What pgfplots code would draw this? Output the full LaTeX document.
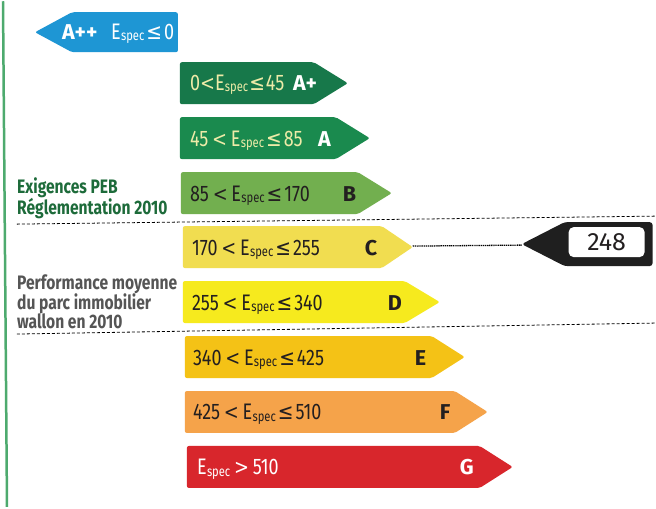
\documentclass[border=0pt]{standalone}
\usepackage{pgfplots}
\pgfplotsset{compat=1.18}
\usepackage{fontspec}
\setmainfont{Fira Sans}[FakeStretch=0.8]
\newfontfamily\lett{Fira Sans}
\newfontfamily\symf{DejaVu Sans}[FakeStretch=0.85]
\definecolor{cApp}{HTML}{1E96D4}
\definecolor{cAp}{HTML}{17784A}
\definecolor{cA}{HTML}{1A8A4E}
\definecolor{cB}{HTML}{72AF4F}
\definecolor{cC}{HTML}{F1DD50}
\definecolor{cD}{HTML}{F6EA1E}
\definecolor{cE}{HTML}{F4C216}
\definecolor{cF}{HTML}{F5A34A}
\definecolor{cG}{HTML}{D8262C}
\definecolor{ltxt}{HTML}{EEEBA8}
\definecolor{dtxt}{HTML}{231F20}
\definecolor{peb}{HTML}{1D6B3A}
\definecolor{grtxt}{HTML}{555555}
\definecolor{border}{HTML}{4DAA6E}
\newcommand\Es{E\kern0.3pt\raisebox{-1.5pt}{\fontsize{14}{14}\selectfont spec}}
\newcommand\LE{\kern2pt{\symf\fontsize{22}{22}\selectfont ≤}\kern2pt}
\newcommand\LT{\,{\symf\fontsize{21}{21}\selectfont <}\,}
\newcommand\GT{\,{\symf\fontsize{21}{21}\selectfont >}\,}
\tikzset{
  rng/.style={anchor=base west, inner sep=0pt, font=\fontsize{22.5}{22.5}\selectfont},
  let/.style={anchor=base west, inner sep=0pt, font=\lett\bfseries\fontsize{21.5}{21.5}\selectfont},
  lft/.style={anchor=base west, inner sep=0pt, font=\bfseries\fontsize{19.5}{19.5}\selectfont}
}
\begin{document}
\begin{tikzpicture}
\begin{axis}[scale only axis, width=656pt, height=506pt,
  xmin=0, xmax=656, ymin=0, ymax=506, y dir=reverse,
  hide axis, clip=false]
% background
\addplot[draw=none, fill=white] coordinates {(0,0) (656,0) (656,506) (0,506)} -- cycle;
% left border
\addplot[border, line width=2.5pt] coordinates {(3,0) (7,506)};
% arrows
\addplot[fill=cApp, draw=none, rounded corners=2pt] coordinates {(35,31) (72,11) (178,11) (178,51) (72,51)} -- cycle;
\addplot[fill=cAp, draw=none, rounded corners=2pt] coordinates {(180,61) (314,61) (348,82) (314,103) (180,103)} -- cycle;
\addplot[fill=cA, draw=none, rounded corners=2pt] coordinates {(180,116) (336,116) (370,137) (336,158) (180,158)} -- cycle;
\addplot[fill=cB, draw=none, rounded corners=2pt] coordinates {(181,171) (358,171) (392,192) (358,213) (181,213)} -- cycle;
\addplot[fill=cC, draw=none, rounded corners=2pt] coordinates {(183,225) (382,225) (413,246) (382,267) (183,267)} -- cycle;
\addplot[fill=cD, draw=none, rounded corners=2pt] coordinates {(183,280) (405,280) (440,301) (405,322) (183,322)} -- cycle;
\addplot[fill=cE, draw=none, rounded corners=2pt] coordinates {(185,335) (432,335) (465,356) (432,377) (185,377)} -- cycle;
\addplot[fill=cF, draw=none, rounded corners=2pt] coordinates {(185,390) (455,390) (488,411) (455,432) (185,432)} -- cycle;
\addplot[fill=cG, draw=none, rounded corners=2pt] coordinates {(187,445) (480,445) (513,466) (480,487) (187,487)} -- cycle;
% dashed separators
\addplot[black, line width=0.8pt, dash pattern=on 3pt off 2pt] coordinates {(17,223) (656,215)};
\addplot[black, line width=0.8pt, dash pattern=on 3pt off 2pt] coordinates {(17,333) (656,322)};
% marker 248
\addplot[black, line width=1.3pt, dash pattern=on 1.2pt off 0.7pt] coordinates {(413,245) (522,244)};
\addplot[fill=black!88, draw=none, rounded corners=3pt] coordinates {(522,243) (565,221) (653,221) (653,265) (565,265)} -- cycle;
\addplot[fill=white, draw=none, rounded corners=5pt] coordinates {(569,226) (645,226) (645,256) (569,256)} -- cycle;
\node[anchor=center, text=dtxt, font=\lett\fontsize{25}{25}\selectfont] at (axis cs:607,241) {248};
% texts in arrows
\node[let, text=white] at (axis cs:62,38) {A++};
\node[rng, text=white] at (axis cs:111,38) {\Es\LE 0};
\node[rng, text=ltxt] at (axis cs:190,89) {0{\symf\fontsize{21}{21}\selectfont <}\Es\kern1pt{\symf\fontsize{22}{22}\selectfont ≤}\kern1pt45};
\node[let, text=white] at (axis cs:293,89) {A+};
\node[rng, text=ltxt] at (axis cs:190,145) {45\LT\Es\LE 85};
\node[let, text=white] at (axis cs:318,145) {A};
\node[rng, text=dtxt] at (axis cs:190,200) {85\LT\Es\LE 170};
\node[let, text=dtxt] at (axis cs:343,200) {B};
\node[rng, text=dtxt] at (axis cs:192,254) {170\LT\Es\LE 255};
\node[let, text=dtxt] at (axis cs:365,254) {C};
\node[rng, text=dtxt] at (axis cs:192,309) {255\LT\Es\LE 340};
\node[let, text=dtxt] at (axis cs:388,309) {D};
\node[rng, text=dtxt] at (axis cs:193,364) {340\LT\Es\LE 425};
\node[let, text=dtxt] at (axis cs:415,364) {E};
\node[rng, text=dtxt] at (axis cs:193,419) {425\LT\Es\LE 510};
\node[let, text=dtxt] at (axis cs:440,419) {F};
\node[rng, text=white] at (axis cs:197,474) {\Es\GT 510};
\node[let, text=white] at (axis cs:460,474) {G};
% left texts
\node[lft, text=peb] at (axis cs:17,192) {Exigences PEB};
\node[lft, text=peb] at (axis cs:17,213) {Réglementation 2010};
\node[lft, text=grtxt] at (axis cs:17,288) {Performance moyenne};
\node[lft, text=grtxt] at (axis cs:17,308) {du parc immobilier};
\node[lft, text=grtxt] at (axis cs:17,327) {wallon en 2010};
\end{axis}
\end{tikzpicture}
\end{document}
